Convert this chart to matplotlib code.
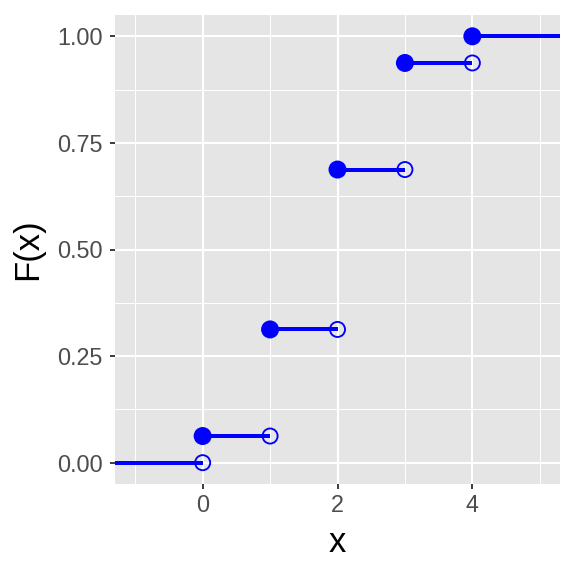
import matplotlib
matplotlib.use("Agg")
import matplotlib.pyplot as plt
import numpy as np

x_vals = [0, 1, 2, 3, 4]
cdf_vals = [0.0625, 0.3125, 0.6875, 0.9375, 1.0]
x_ticks = [0, 2, 4]
y_ticks = [0.00, 0.25, 0.50, 0.75, 1.00]
y_tick_labels = ["0.00", "0.25", "0.50", "0.75", "1.00"]

plt.rcParams['font.family'] = ['Liberation Sans', 'DejaVu Sans']
fig = plt.figure(figsize=(6, 6), dpi=96)
ax = fig.add_axes([115/576, 1-484/576, 445/576, 469/576])
ax.set_facecolor('#E5E5E5')
xlim = (-1.3, 5.3)
ylim = (-0.05, 1.05)
ax.set_xlim(*xlim)
ax.set_ylim(*ylim)

# grid
for v in [-1, 1, 3, 5]:
    ax.axvline(v, color='white', lw=0.8, zorder=0.5)
for v in [0.125, 0.375, 0.625, 0.875]:
    ax.axhline(v, color='white', lw=0.8, zorder=0.5)
for v in x_ticks:
    ax.axvline(v, color='white', lw=1.6, zorder=0.6)
for v in y_ticks:
    ax.axhline(v, color='white', lw=1.6, zorder=0.6)

blue = '#0000FF'
# step segments
starts = [xlim[0]] + x_vals
ends = x_vals + [xlim[1]]
levels = [0.0] + cdf_vals
for s, e, lv in zip(starts, ends, levels):
    ax.plot([s, e], [lv, lv], color=blue, lw=3.0, solid_capstyle='butt', zorder=3)
# open circles at left limits
ax.scatter(x_vals, [0.0] + cdf_vals[:-1], s=11.3**2, facecolors='none', edgecolors=blue,
           linewidths=1.4, zorder=2)
# filled points
ax.scatter(x_vals, cdf_vals, s=13.5**2, color=blue, edgecolors='none', zorder=4)

ax.set_xticks(x_ticks)
ax.set_xticklabels([str(v) for v in x_ticks])
ax.set_yticks(y_ticks)
ax.set_yticklabels(y_tick_labels)
ax.tick_params(axis='both', length=4.0, width=1.4, color='#333333', labelcolor='#4D4D4D',
               labelsize=17.5)
ax.tick_params(axis='x', pad=3.5)
ax.tick_params(axis='y', pad=5)
for sp in ax.spines.values():
    sp.set_visible(False)
ax.set_xlabel('x', fontsize=26, color='black', labelpad=7)
ax.set_ylabel('F(x)', fontsize=26, color='black', labelpad=10)

fig.savefig('out.png', dpi=96, facecolor='white')
